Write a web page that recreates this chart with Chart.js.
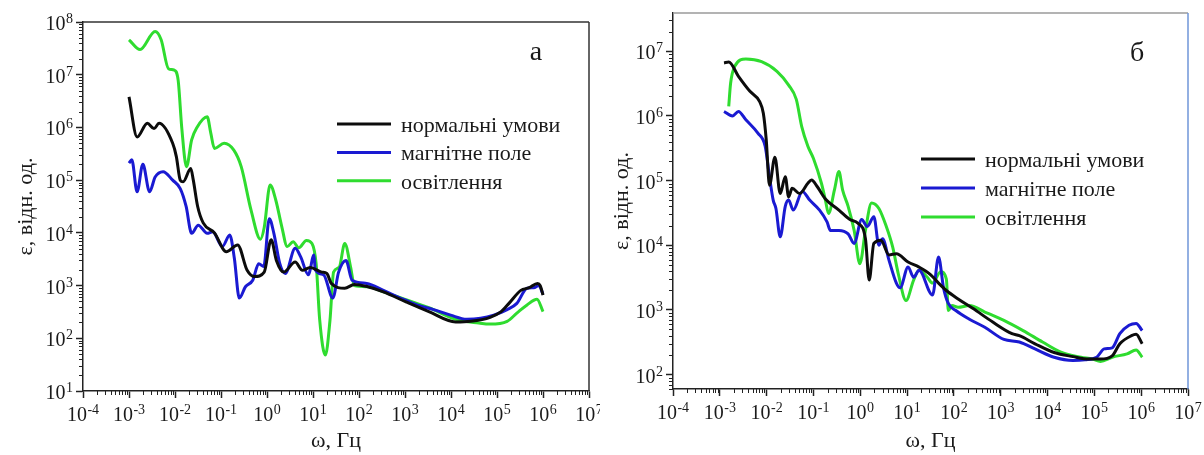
<!DOCTYPE html>
<html>
<head>
<meta charset="utf-8">
<script src="https://cdn.jsdelivr.net/npm/chart.js@4/dist/chart.umd.min.js"></script>
<style>
  body { margin: 0; background: #fff; width: 1204px; height: 455px; overflow: hidden; position: relative; }
  #panelA { position: absolute; left: 0; top: 0; }
  #panelB { position: absolute; left: 600px; top: 0; }
</style>
</head>
<body>
<canvas id="panelA" width="600" height="455"></canvas>
<canvas id="panelB" width="604" height="455"></canvas>
<script>
// назви кривих
const seriesNames = ['нормальні умови', 'магнітне поле', 'освітлення'];
const seriesColors = ['#0c0c0c', '#1a1ad2', '#2fdc2f'];
const xTickRange = [1e-4, 1e7];
const yRangeA = [1e1, 1e8];
const yRangeB = [60, 3.9e7];

// панель а: частота, Гц
const aNormF = [1.0e-3, 1.5e-3, 2.5e-3, 3.5e-3, 4.5e-3, 8.9e-3, 1.07e-2, 1.3e-2, 1.5e-2, 2.2e-2, 2.5e-2, 3.1e-2, 4.1e-2, 7.2e-2,
  0.13, 0.23, 0.37, 0.54, 0.87, 1.23, 1.6, 2.3, 4.1, 5.9, 8.7, 15.5, 20, 25, 49, 79, 155, 340, 1050, 3300,
  1.26e4, 2.7e4, 7.1e4, 1.23e5, 1.86e5, 3.3e5, 5.0e5, 7.6e5, 8.7e5, 1.0e6];
const aNormE = [3.8e6, 6.6e5, 1.2e6, 9.5e5, 1.2e6, 5.0e5, 2.8e5, 1.0e5, 9.3e4, 1.66e5, 1.0e5, 3.2e4, 1.55e4, 1.0e4,
  4.4e3, 5.9e3, 1.95e3, 1.48e3, 1.8e3, 7.4e3, 3.0e3, 1.8e3, 2.8e3, 1.95e3, 2.2e3, 1.8e3, 1.7e3, 1.1e3, 890, 1050, 950, 760, 490, 320,
  204, 210, 250, 320, 470, 810, 910, 1100, 1000, 660];

const aMagF = [1.0e-3, 1.15e-3, 1.5e-3, 2.0e-3, 2.8e-3, 3.7e-3, 5.5e-3, 8.9e-3, 1.3e-2, 1.74e-2, 2.3e-2, 3.2e-2, 5.0e-2, 6.6e-2,
  0.107, 0.155, 0.195, 0.25, 0.34, 0.49, 0.66, 0.85, 1.12, 1.41, 1.9, 2.5, 4.1, 5.4, 7.9, 10.5, 11.2, 17, 27, 36, 52, 71,
  148, 340, 790, 1820, 4200, 9800, 2.2e4, 4.4e4, 8.5e4, 1.66e5, 2.7e5, 4.5e5, 6.3e5, 8.1e5, 1.0e6];
const aMagE = [2.1e5, 2.45e5, 6.0e4, 2.0e5, 6.0e4, 1.15e5, 1.45e5, 1.0e5, 6.9e4, 3.2e4, 9.8e3, 1.4e4, 9.8e3, 1.05e4,
  5.5e3, 9.1e3, 3.3e3, 580, 950, 1260, 2600, 2300, 1.86e4, 9.8e3, 2600, 1700, 5.1e3, 3.5e3, 1600, 3.8e3, 2.0e3, 1600, 580, 1800, 3.0e3, 1260,
  1100, 810, 580, 430, 350, 275, 230, 240, 275, 350, 460, 890, 910, 1000, 690];

const aLightF = [1.0e-3, 1.74e-3, 3.7e-3, 5.0e-3, 7.2e-3, 9.5e-3, 1.17e-2, 1.4e-2, 1.78e-2, 2.3e-2, 3.0e-2, 5.0e-2, 6.0e-2, 7.2e-2,
  0.117, 0.19, 0.275, 0.45, 0.72, 0.87, 1.17, 1.55, 2.1, 2.75, 3.7, 4.9, 7.2, 9.5, 11.7, 14, 18.6, 23.4, 28, 37, 49, 66, 79,
  155, 340, 1050, 3300, 1.26e4, 4.0e4, 7.1e4, 1.66e5, 2.7e5, 4.5e5, 7.4e5, 1.0e6];
const aLightE = [4.6e7, 3.0e7, 6.6e7, 4.6e7, 1.3e7, 1.23e7, 7.9e6, 1.0e6, 1.8e5, 5.8e5, 1.0e6, 1.6e6, 7.8e5, 4.0e5,
  5.0e5, 3.7e5, 1.8e5, 2.7e4, 7.6e3, 1.26e4, 8.1e4, 4.2e4, 1.3e4, 5.5e3, 6.8e3, 5.2e3, 7.2e3, 6.3e3, 2.6e3, 220, 48, 220, 1800, 2200, 6.3e3, 2200, 1000,
  950, 760, 540, 380, 230, 195, 186, 210, 300, 430, 550, 320];

// панель б
const bNormF = [1.23e-3, 1.55e-3, 2.5e-3, 4.4e-3, 7.1e-3, 8.5e-3, 9.8e-3, 1.15e-2, 1.5e-2, 1.95e-2, 2.5e-2, 2.95e-2, 3.5e-2, 5.1e-2,
  7.6e-2, 9.1e-2, 0.12, 0.18, 0.35, 0.6, 0.89, 1.29, 1.55, 1.95, 2.75, 4.1, 5.9, 10.5, 18, 32, 47, 69, 123, 257, 676, 1740, 2500, 5400,
  1.38e4, 3.5e4, 7.6e4, 1.35e5, 2.4e5, 3.5e5, 6.2e5, 7.8e5, 1.05e6];
const bNormE = [6.6e6, 6.8e6, 4.1e6, 2.4e6, 1.66e6, 1.1e6, 4.3e5, 8.5e4, 2.3e5, 6.3e4, 1.15e5, 5.6e4, 7.6e4, 6.3e4,
  9.1e4, 1.02e5, 8.1e4, 5.2e4, 3.5e4, 2.5e4, 2.2e4, 1.26e4, 2.9e3, 1.07e4, 1.2e4, 7.1e3, 7.4e3, 5.5e3, 4.6e3, 3.5e3, 2.6e3, 2.0e3, 1480, 1050, 650, 430, 400, 300,
  220, 190, 174, 174, 195, 300, 400, 420, 300];

const bMagF = [1.23e-3, 1.86e-3, 2.5e-3, 3.6e-3, 6.5e-3, 9.3e-3, 1.15e-2, 1.38e-2, 1.58e-2, 1.95e-2, 2.5e-2, 2.95e-2, 3.7e-2, 5.8e-2,
  8.3e-2, 0.135, 0.195, 0.23, 0.35, 0.55, 0.74, 1.07, 1.41, 1.95, 2.5, 3.0, 4.1, 5.9, 7.1, 10.5, 13.8, 18, 35, 47, 60, 76,
  110, 214, 457, 1170, 2500, 5400, 1.38e4, 3.5e4, 6.3e4, 1.12e5, 1.62e5, 2.4e5, 3.5e5, 5.5e5, 7.8e5, 1.05e6];
const bMagE = [1.17e6, 1.0e6, 1.17e6, 8.7e5, 5.4e5, 3.4e5, 1.15e5, 5.0e4, 3.7e4, 1.35e4, 4.0e4, 5.0e4, 3.5e4, 6.8e4,
  5.0e4, 3.5e4, 2.3e4, 1.7e4, 1.7e4, 1.5e4, 1.07e4, 2.5e4, 1.95e4, 2.75e4, 1.0e4, 1.26e4, 5.9e3, 2.6e3, 2.2e3, 4.6e3, 3.2e3, 4.1e3, 1.7e3, 6.6e3, 2.2e3, 1260,
  980, 720, 540, 350, 320, 250, 186, 166, 170, 186, 250, 260, 430, 580, 620, 480];

const bLightF = [1.55e-3, 1.7e-3, 2.1e-3, 3.6e-3, 7.8e-3, 1.66e-2, 2.95e-2, 4.3e-2, 5.6e-2, 7.6e-2, 0.1, 0.148, 0.18, 0.21,
  0.28, 0.35, 0.42, 0.55, 0.74, 0.98, 1.29, 1.74, 2.5, 3.6, 4.9, 6.5, 9.5, 13.8, 18, 27, 35, 52, 69, 76, 91,
  123, 214, 457, 1170, 3000, 7800, 2.0e4, 5.2e4, 9.1e4, 1.35e5, 2.4e5, 5.0e5, 7.8e5, 1.05e6];
const bLightE = [1.4e6, 3.2e6, 5.9e6, 7.6e6, 6.9e6, 4.9e6, 3.0e6, 1.8e6, 6.9e5, 3.4e5, 2.2e5, 9.1e4, 5.0e4, 3.1e4,
  7.1e4, 1.38e5, 7.1e4, 4.0e4, 1.7e4, 5.2e3, 1.7e4, 4.5e4, 3.7e4, 1.95e4, 9.5e3, 3.6e3, 1.4e3, 2.9e3, 4.1e3, 3.2e3, 2.6e3, 3.9e3, 3.0e3, 980, 1170,
  1100, 1170, 930, 690, 480, 320, 220, 186, 174, 160, 186, 210, 240, 186];

// мітки 1..9 x 10^n
function logTicks(scale) {
  const lo = Math.floor(Math.log10(scale.min) + 1e-9);
  const hi = Math.ceil(Math.log10(scale.max) - 1e-9);
  const t = [];
  for (let e = lo; e <= hi; e++) {
    for (let k = 1; k <= 9; k++) {
      const v = k * Math.pow(10, e);
      if (v >= scale.min * 0.999 && v <= scale.max * 1.001) t.push({value: v, major: k === 1});
    }
  }
  scale.ticks = t;
}

const axisColor = '#222';
const textColor = '#1a1a1a';
const serif = '"Liberation Serif", "Times New Roman", serif';

// підпис 10^n з верхнім індексом
function drawPow(ctx, v, x, y, align) {
  const exp = String(Math.round(Math.log10(v)));
  ctx.font = '20px ' + serif;
  const wb = ctx.measureText('10').width;
  ctx.font = '14px ' + serif;
  const we = ctx.measureText(exp).width;
  const w = wb + we + 0.5;
  let x0 = align === 'center' ? x - w / 2 : x - w;
  ctx.textAlign = 'left';
  ctx.textBaseline = 'alphabetic';
  ctx.font = '20px ' + serif;
  ctx.fillText('10', x0, y);
  ctx.font = '14px ' + serif;
  ctx.fillText(exp, x0 + wb + 0.5, y - 7);
}

// проміжні мітки, підписи осей, рамка, легенда, літера панелі
const decor = {
  id: 'decor',
  afterDraw(chart, args, o) {
    const ctx = chart.ctx;
    const a = chart.chartArea;
    ctx.save();
    ctx.strokeStyle = axisColor;
    ctx.fillStyle = textColor;
    ctx.lineWidth = 1;
    ['x', 'y'].forEach(id => {
      const s = chart.scales[id];
      s.ticks.forEach(t => {
        const p = s.getPixelForValue(t.value);
        if (t.major) {
          if (id === 'x') drawPow(ctx, t.value, p, s.top + 30, 'center');
          else drawPow(ctx, t.value, s.right - 10, p + 8, 'right');
          return;
        }
        const q = Math.round(p) + 0.5;
        ctx.beginPath();
        if (id === 'x') { ctx.moveTo(q, s.top); ctx.lineTo(q, s.top + 4); }
        else { ctx.moveTo(s.right, q); ctx.lineTo(s.right - 4, q); }
        ctx.stroke();
      });
    });
    ctx.lineWidth = 1.5;
    ctx.strokeStyle = o.topColor;
    ctx.beginPath(); ctx.moveTo(a.left, a.top); ctx.lineTo(a.right, a.top); ctx.stroke();
    ctx.strokeStyle = o.rightColor;
    ctx.beginPath(); ctx.moveTo(a.right, a.top); ctx.lineTo(a.right, a.bottom); ctx.stroke();

    ctx.font = '22px ' + serif;
    ctx.textAlign = 'left';
    ctx.textBaseline = 'middle';
    chart.data.datasets.forEach((ds, i) => {
      const y = o.legendY + i * o.legendStep;
      ctx.strokeStyle = ds.borderColor;
      ctx.lineWidth = 3;
      ctx.beginPath(); ctx.moveTo(o.legendX, y); ctx.lineTo(o.legendX + 54, y); ctx.stroke();
      ctx.fillText(ds.label, o.legendX + 64, y + 2);
    });

    ctx.font = '28px ' + serif;
    ctx.textAlign = 'center';
    ctx.textBaseline = 'alphabetic';
    ctx.fillText(o.letter, o.letterX, o.letterY);
    ctx.restore();
  }
};

function makePanel(id, sets, yRange, box, dec) {
  const tickGrid = {drawOnChartArea: false, tickLength: 7, tickWidth: 1.5,
    tickColor: c => (c.tick && c.tick.major) ? axisColor : 'rgba(0,0,0,0)'};
  new Chart(document.getElementById(id), {
    type: 'line',
    data: {
      datasets: sets.map((s, i) => ({
        label: seriesNames[i],
        data: s[0].map((f, j) => ({x: f, y: s[1][j]})),
        borderColor: seriesColors[i],
        borderWidth: 3,
        pointRadius: 0,
        cubicInterpolationMode: 'monotone',
        fill: false
      }))
    },
    options: {
      responsive: false,
      animation: false,
      events: [],
      layout: {padding: {top: box.top, right: box.right, left: 0, bottom: 0}},
      plugins: {legend: {display: false}, tooltip: {enabled: false}, decor: dec},
      scales: {
        x: {
          type: 'logarithmic',
          min: xTickRange[0], max: xTickRange[1],
          afterBuildTicks: logTicks,
          afterFit: s => { s.height = box.xh; },
          border: {display: true, color: axisColor, width: 1.5},
          grid: tickGrid,
          ticks: {display: false, autoSkip: false},
          title: {display: true, text: 'ω, Гц', color: textColor, font: {size: 22},
                  padding: {top: 0, bottom: 1}}
        },
        y: {
          type: 'logarithmic',
          min: yRange[0], max: yRange[1],
          afterBuildTicks: logTicks,
          afterFit: s => { s.width = box.yw; },
          border: {display: true, color: axisColor, width: 1.5},
          grid: tickGrid,
          ticks: {display: false, autoSkip: false},
          title: {display: true, text: 'ε, відн. од.', color: textColor, font: {size: 22},
                  padding: {top: box.tp, bottom: 0}}
        }
      }
    },
    plugins: [decor]
  });
}

Chart.defaults.font.family = serif;

makePanel('panelA',
  [[aNormF, aNormE], [aMagF, aMagE], [aLightF, aLightE]],
  yRangeA,
  {top: 22, right: 11, xh: 64, yw: 83, tp: 13},
  {topColor: '#333', rightColor: '#333', legendX: 337, legendY: 124, legendStep: 28.4,
   letter: 'а', letterX: 536, letterY: 60});

makePanel('panelB',
  [[bNormF, bNormE], [bMagF, bMagE], [bLightF, bLightE]],
  yRangeB,
  {top: 13, right: 16, xh: 66, yw: 73, tp: 9},
  {topColor: '#9a9a9a', rightColor: '#6f96d8', legendX: 321, legendY: 159, legendStep: 29,
   letter: 'б', letterX: 537, letterY: 61});
</script>
</body>
</html>
